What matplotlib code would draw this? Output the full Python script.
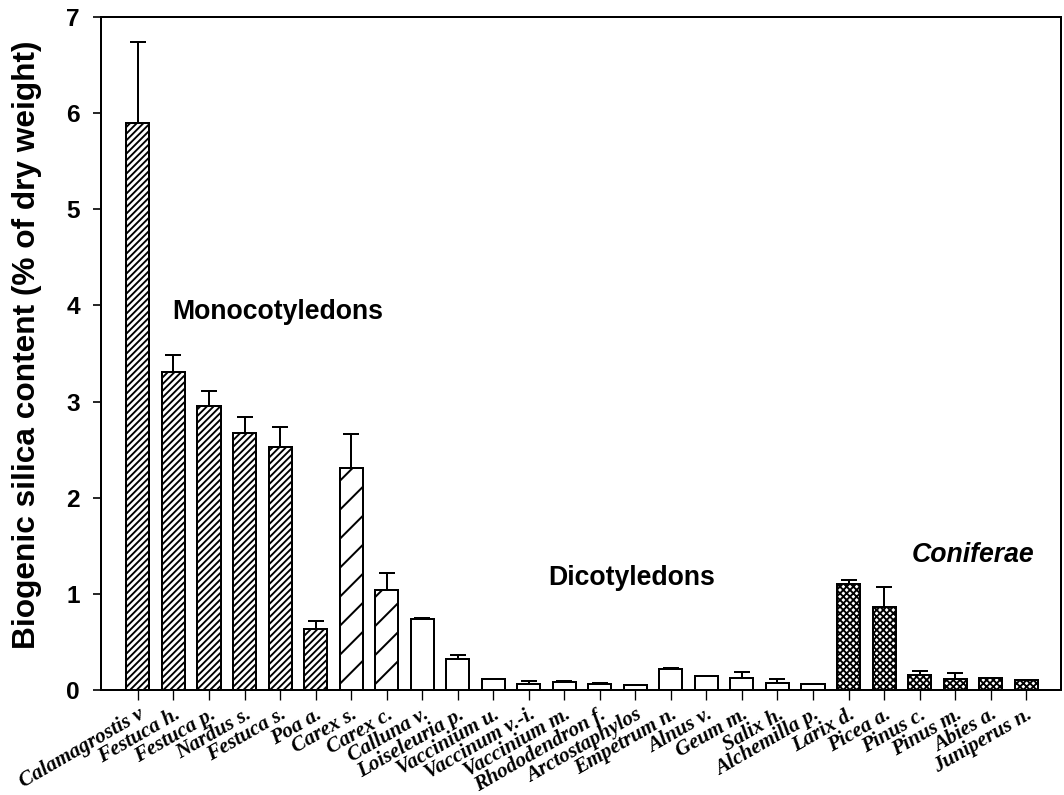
import matplotlib
matplotlib.use('Agg')
import matplotlib.pyplot as plt
import numpy as np

species = ['Calamagrostis v', 'Festuca h.', 'Festuca p.', 'Nardus s.', 'Festuca s.',
           'Poa a.', 'Carex s.', 'Carex c.', 'Calluna v.', 'Loiseleuria p.',
           'Vaccinium u.', 'Vaccinum v.-i.', 'Vaccinium m.', 'Rhododendron f.',
           'Arctostaphylos', 'Empetrum n.', 'Alnus v.', 'Geum m.', 'Salix h.',
           'Alchemilla p.', 'Larix d.', 'Picea a.', 'Pinus c.', 'Pinus m.',
           'Abies a.', 'Juniperus n.']
means = [5.90, 3.31, 2.955, 2.67, 2.53, 0.635, 2.31, 1.04, 0.74, 0.32,
         0.11, 0.06, 0.08, 0.06, 0.05, 0.22, 0.15, 0.12, 0.07, 0.06,
         1.10, 0.86, 0.155, 0.11, 0.12, 0.10]
errors = [0.84, 0.17, 0.155, 0.17, 0.21, 0.085, 0.35, 0.18, 0.01, 0.04,
          0.0, 0.03, 0.01, 0.01, 0.005, 0.005, 0.0, 0.07, 0.04, 0.005,
          0.04, 0.21, 0.045, 0.065, 0.005, 0.0]
groups = ['mono'] * 6 + ['sparse'] * 2 + ['dicot'] * 12 + ['conifer'] * 6

group_labels = ['Monocotyledons', 'Dicotyledons', 'Coniferae']
label_pos = [(0.96, 3.93), (11.56, 1.17), (21.77, 1.40)]

hatch_map = {'mono': '////', 'sparse': '', 'dicot': '', 'conifer': 'xxxx'}

plt.rcParams['hatch.linewidth'] = 1.7
plt.rcParams['font.family'] = 'Liberation Sans'

fig = plt.figure(figsize=(13.3, 9.9375), dpi=80)
ax = fig.add_axes([101/1064, 105/795, 960/1064, 673/795])

n = len(species)
x = np.arange(n)
bars = ax.bar(x, means, width=0.65, color='white', edgecolor='black', linewidth=1.8)
for b, g in zip(bars, groups):
    b.set_hatch(hatch_map[g])

ax.errorbar(x, means, yerr=[np.zeros(n), errors], fmt='none', ecolor='black',
            elinewidth=1.8, capsize=7.5, capthick=1.8)

ax.set_xlim(-1.04, 25.98)
ax.set_ylim(0, 7)

# sparse diagonal hatch for the two Carex bars (45 deg on screen)
p0 = ax.transData.transform((0, 0))
p1 = ax.transData.transform((1, 1))
slope = (p1[0] - p0[0]) / (p1[1] - p0[1])
gap = 29 / (p1[1] - p0[1])
for b, g in zip(bars, groups):
    if g != 'sparse':
        continue
    x0, w, h = b.get_x(), b.get_width(), b.get_height()
    for c in np.arange(-slope * w, h, gap):
        ln, = ax.plot([x0, x0 + w], [c, c + slope * w], color='black', lw=1.8)
        ln.set_clip_path(b)

ax.set_xlim(-1.04, 25.98)
ax.set_ylim(0, 7)

for s in ax.spines.values():
    s.set_linewidth(1.8)

ax.set_yticks(range(8))
ax.set_yticklabels([str(i) for i in range(8)], fontsize=22, fontweight='bold')
ax.tick_params(axis='y', direction='out', length=7, width=1.5, pad=12)
ax.tick_params(axis='x', direction='out', length=9, width=1.2, pad=4)
ax.set_xticks(x)
ax.set_xticklabels(species, rotation=30, ha='right', va='top', rotation_mode='anchor',
                   fontfamily='Liberation Serif', fontweight='bold', fontstyle='italic',
                   fontsize=19)

ax.set_ylabel('Biogenic silica content (% of dry weight)', fontsize=28.5,
              fontweight='bold')
ax.yaxis.set_label_coords(-0.0615, 0.513)

for t, (tx, ty) in zip(group_labels, label_pos):
    ax.text(tx, ty, t, fontsize=24, fontweight='bold', va='center', ha='left',
            fontstyle='italic' if t == 'Coniferae' else 'normal')

fig.savefig('out.png', dpi=80)
